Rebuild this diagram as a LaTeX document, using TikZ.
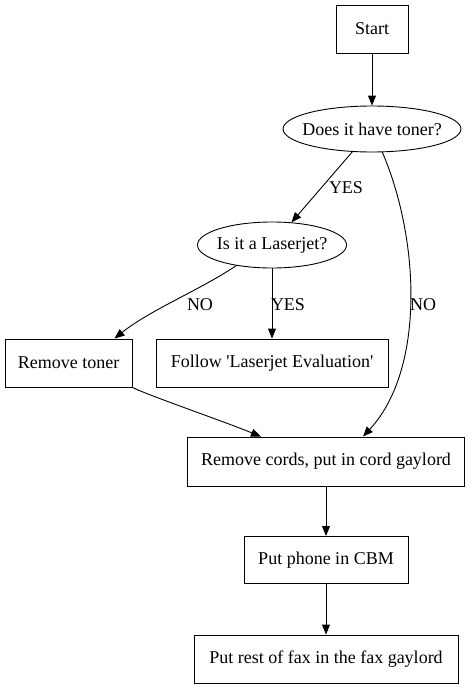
\documentclass[tikz,border=0pt]{standalone}
\usepackage{fontspec}
\setmainfont{Liberation Serif}
\usetikzlibrary{shapes.geometric,arrows.meta,calc}
\begin{document}
\begin{tikzpicture}[x=1pt,y=-1pt,
  every node/.style={font=\fontsize{18}{21}\selectfont, inner sep=0pt},
  box/.style={draw, line width=0.9pt, rectangle},
  oval/.style={draw, line width=0.9pt, ellipse, inner xsep=-25pt},
  edge/.style={line width=0.9pt, -{Triangle[length=10pt,width=8pt]}},
  lbl/.style={}]
\useasboundingbox (0,0) rectangle (472,688);
\node[box, minimum width=72pt, minimum height=48pt] (start) at (372,29) {Start};
\node[oval, minimum width=178pt, minimum height=46pt] (toner) at (372,129) {Does it have toner?};
\node[oval, minimum width=149pt, minimum height=46pt] (laser) at (272,245) {Is it a Laserjet?};
\node[box, minimum width=127pt, minimum height=48pt] (rtoner) at (68.5,363) {Remove toner};
\node[box, minimum width=232pt, minimum height=48pt] (follow) at (272,363) {Follow \textquotesingle Laserjet Evaluation\textquotesingle};
\node[box, minimum width=277pt, minimum height=49pt] (cords) at (326,461.5) {Remove cords, put in cord gaylord};
\node[box, minimum width=164pt, minimum height=47pt] (phone) at (326,560) {Put phone in CBM};
\node[box, minimum width=264pt, minimum height=48pt] (rest) at (326,659) {Put rest of fax in the fax gaylord};

\draw[edge] (start) -- (toner);
\draw[edge] (toner) -- (laser);
\node[lbl] (l1) at (346,188) {YES};
\draw[edge] (toner.-66) .. controls (420,240) and (425,370) .. (cords.34);
\node[lbl] (l2) at (423,305) {NO};
\draw[edge] (laser.-150) .. controls (200,290) and (150,310) .. (rtoner.28);
\node[lbl] (l3) at (200,305) {NO};
\draw[edge] (laser) -- (follow);
\node[lbl] (l4) at (288,305) {YES};
\draw[edge] (rtoner.south east) .. controls (150,396) and (220,420) .. (cords.159);
\draw[edge] (cords) -- (phone);
\draw[edge] (phone) -- (rest);
\end{tikzpicture}
\end{document}
